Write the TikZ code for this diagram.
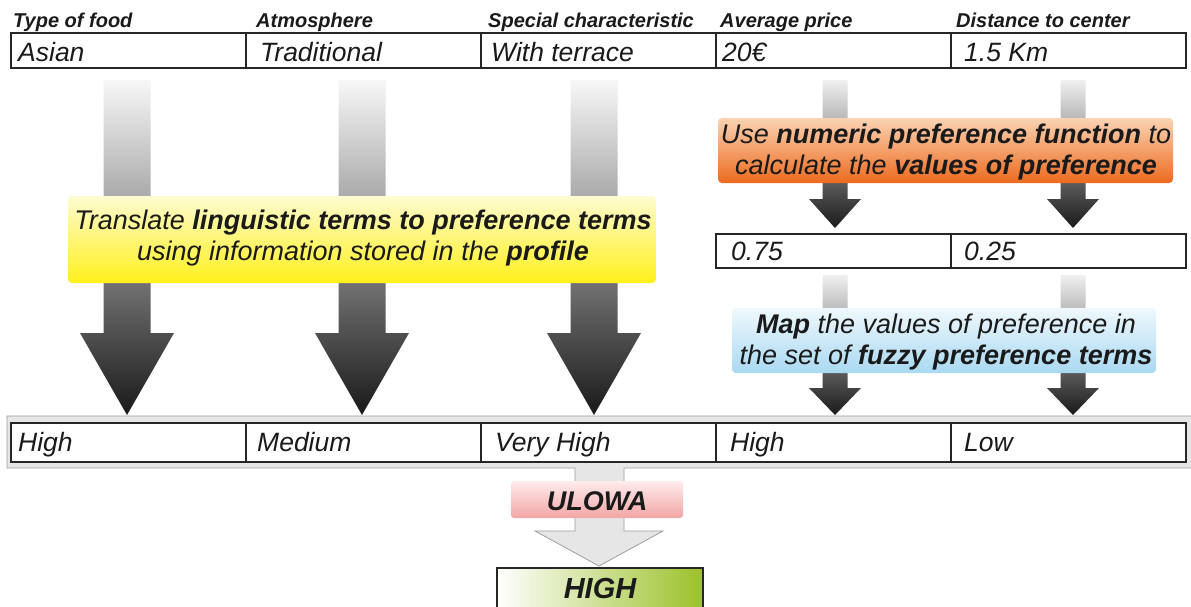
\documentclass[tikz,border=0pt]{standalone}
\usepackage{fontspec}
\setmainfont{Liberation Sans}
\usetikzlibrary{calc}

\definecolor{ink}{HTML}{1A1A1A}
\definecolor{rule}{HTML}{262626}
\definecolor{ytop}{HTML}{FEFBD0}
\definecolor{ybot}{HTML}{FFF01C}
\definecolor{otop}{HTML}{FBD3B3}
\definecolor{obot}{HTML}{EC6A1F}
\definecolor{btop}{HTML}{EFF8FD}
\definecolor{bbot}{HTML}{A9D9F2}
\definecolor{ptop}{HTML}{FDECEC}
\definecolor{pbot}{HTML}{F3A5A5}
\definecolor{gright}{HTML}{9CC12A}
\definecolor{frame}{HTML}{9E9E9E}
\definecolor{framefill}{HTML}{E6E6E6}

% block arrow pointing down: centre x, top, head base, tip, half shaft, half head, style
\newcommand\blockarrow[7]{%
  \shade[#7] (#1-#5,#2) -- (#1+#5,#2) -- (#1+#5,#3) -- (#1+#6,#3) -- (#1,#4)
    -- (#1-#6,#3) -- (#1-#5,#3) -- cycle;}

\tikzset{
  hdr/.style={anchor=base west, inner sep=0pt, text=ink,
    font=\fontsize{20}{24}\selectfont\bfseries\itshape},
  val/.style={anchor=base west, inner sep=0pt, text=ink,
    font=\fontsize{26.5}{31}\selectfont\itshape},
  msg/.style={anchor=base, inner sep=0pt, text=ink,
    font=\fontsize{27}{31}\selectfont\itshape},
  cell/.style={draw=rule, line width=1.4pt, fill=white, inner sep=0pt,
    minimum width=235pt},
  longfade/.style={top color=black!3, middle color=black!45, bottom color=black!90},
  shortfade/.style={top color=black!6, bottom color=black!90},
  panel/.style={draw=none, inner sep=0pt, rounded corners=4pt},
}

\begin{document}
\begin{tikzpicture}[x=1pt,y=-1pt]
\useasboundingbox[fill=white] (0,0) rectangle (1191,606);

% ---- block arrows ----
\blockarrow{127}{80}{333}{415}{23.5}{47}{longfade}
\blockarrow{362}{80}{333}{415}{23.5}{47}{longfade}
\blockarrow{594}{80}{333}{415}{23.5}{47}{longfade}
\blockarrow{835}{80}{199}{228}{12.5}{26}{shortfade}
\blockarrow{1073}{80}{199}{228}{12.5}{26}{shortfade}
\blockarrow{835}{275}{388}{415}{12.5}{26}{shortfade}
\blockarrow{1073}{275}{388}{415}{12.5}{26}{shortfade}

% ---- attribute names ----
\node[hdr] (h1) at (13,27) {Type of food};
\node[hdr] (h2) at (256,27) {Atmosphere};
\node[hdr] (h3) at (488,27) {Special characteristic};
\node[hdr] (h4) at (720,27) {Average price};
\node[hdr] (h5) at (956,27) {Distance to center};

% ---- restaurant description ----
\foreach \i/\x in {1/128.5,2/363.5,3/598.5,4/833.5,5/1068.5}
  \node[cell, minimum height=35pt] (a\i) at (\x,50.5) {};
\node[val] (av1) at (18,61) {Asian};
\node[val] (av2) at (260,61) {Traditional};
\node[val] (av3) at (491,61) {With terrace};
\node[val] (av4) at (722,61) {20€};
\node[val] (av5) at (964,61) {1.5 Km};

% ---- translation panel ----
\node[panel, top color=ytop, bottom color=ybot,
      minimum width=588pt, minimum height=87pt] (trans) at (362,239.5) {};
\node[msg] (tr1) at (363,229) {Translate \textbf{linguistic terms to preference terms}};
\node[msg] (tr2) at (363,260) {using information stored in the \textbf{profile}};

% ---- numeric preference panel ----
\node[panel, top color=otop, bottom color=obot,
      minimum width=455pt, minimum height=65pt] (num) at (945.5,150.5) {};
\node[msg] (nu1) at (946,143) {Use \textbf{numeric preference function} to};
\node[msg] (nu2) at (946,174) {calculate the \textbf{values of preference}};

% ---- preference values ----
\node[cell, minimum height=34pt] (p4) at (833.5,251) {};
\node[cell, minimum height=34pt] (p5) at (1068.5,251) {};
\node[val] (pv4) at (731,260.5) {0.75};
\node[val] (pv5) at (964,260.5) {0.25};

% ---- mapping panel ----
\node[panel, top color=btop, bottom color=bbot,
      minimum width=424pt, minimum height=65pt] (map) at (944,340.5) {};
\node[msg] (mp1) at (946,333) {\textbf{Map} the values of preference in};
\node[msg] (mp2) at (946,364) {the set of \textbf{fuzzy preference terms}};

% ---- aggregation arrow with its frame ----
\filldraw[fill=framefill, draw=frame, line width=0.8pt]
  (7,416) -- (1200,416) -- (1200,468) -- (624,468) -- (624,531) -- (663,531)
  -- (599,566) -- (535,531) -- (575,531) -- (575,468) -- (7,468) -- cycle;

% ---- preference terms ----
\foreach \i/\x in {1/128.5,2/363.5,3/598.5,4/833.5,5/1068.5}
  \node[cell, minimum height=39pt] (t\i) at (\x,442.5) {};
\node[val] (tv1) at (18,451) {High};
\node[val] (tv2) at (257,451) {Medium};
\node[val] (tv3) at (495,451) {Very High};
\node[val] (tv4) at (730,451) {High};
\node[val] (tv5) at (964,451) {Low};

% ---- aggregation operator ----
\node[panel, rounded corners=3pt, top color=ptop, bottom color=pbot,
      minimum width=172pt, minimum height=37pt] (ulowa) at (597,499.5) {};
\node[msg, font=\fontsize{27}{31}\selectfont\bfseries\itshape] (ul) at (597,510) {ULOWA};

% ---- result ----
\node[draw=rule, line width=1.3pt, left color=white, right color=gright,
      minimum width=206pt, minimum height=56pt, inner sep=0pt] (res) at (600,596) {};
\node[msg, font=\fontsize{29}{33}\selectfont\bfseries\itshape] (rs) at (600,598) {HIGH};
\end{tikzpicture}
\end{document}
